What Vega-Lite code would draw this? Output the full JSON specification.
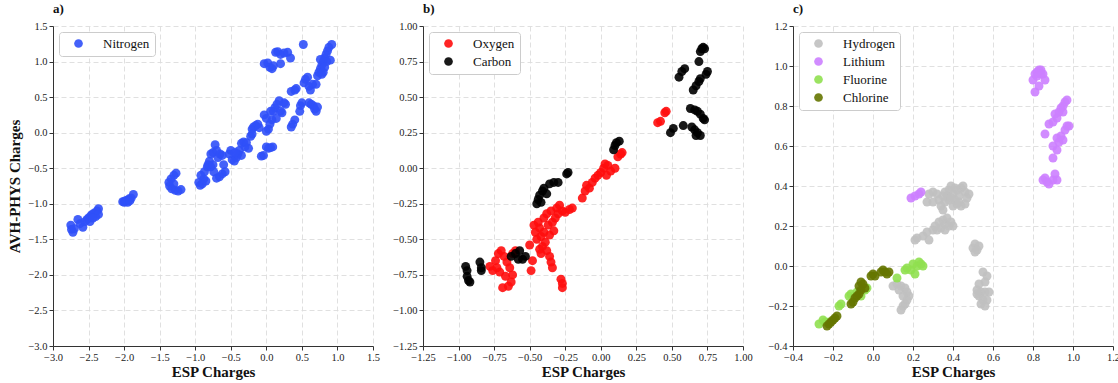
{
  "$schema": "https://vega.github.io/schema/vega-lite/v6.json",
  "padding": {"left": 7, "top": 3, "right": 0, "bottom": 0},
  "bounds": "flush",
  "spacing": 50,
  "config": {
    "font": "Liberation Serif",
    "view": {"stroke": null},
    "style": {"guide-label": {"font": "Liberation Serif"}, "guide-title": {"font": "Liberation Serif"}, "group-title": {"font": "Liberation Serif"}},
    "axis": {
      "labelFont": "Liberation Serif", "labelFontSize": 10.5, "labelColor": "#222222", "labelOverlap": false, "labelFlush": false,
      "titleFont": "Liberation Serif", "titleFontSize": 15, "titleFontWeight": "bold", "titleColor": "#111111",
      "gridColor": "#dddddd", "gridDash": [5, 3], "gridWidth": 0.9,
      "domainColor": "#333333", "tickColor": "#333333", "tickSize": 4, "domainWidth": 1, "labelPadding": 2, "titlePadding": 2
    },
    "legend": {
      "orient": "top-left", "offset": 6, "title": null, "padding": 5, "symbolOffset": 8, "labelOffset": 18,
      "labelFont": "Liberation Serif", "labelFontSize": 13, "labelColor": "#111111", "symbolType": "circle", "symbolSize": 75,
      "symbolOpacity": 0.9, "strokeColor": "#cccccc", "fillColor": "#ffffff", "cornerRadius": 3, "rowPadding": 4
    },
    "title": {"font": "Liberation Serif", "fontSize": 13, "fontWeight": "bold", "anchor": "start", "frame": "group", "offset": 5, "color": "#111111"}
  },
  "resolve": {"scale": {"color": "independent"}, "legend": {"color": "independent"}},
  "hconcat": [
    {
      "width": 320, "height": 320,
      "title": {"text": "a)"},
      "data": {"values": [
        {"esp": -2.75, "avh": -1.30, "el": "Nitrogen"}, {"esp": -2.74, "avh": -1.36, "el": "Nitrogen"}, {"esp": -2.72, "avh": -1.40, "el": "Nitrogen"},
        {"esp": -2.70, "avh": -1.35, "el": "Nitrogen"}, {"esp": -2.65, "avh": -1.22, "el": "Nitrogen"}, {"esp": -2.62, "avh": -1.28, "el": "Nitrogen"},
        {"esp": -2.58, "avh": -1.33, "el": "Nitrogen"}, {"esp": -2.55, "avh": -1.25, "el": "Nitrogen"}, {"esp": -2.52, "avh": -1.22, "el": "Nitrogen"},
        {"esp": -2.50, "avh": -1.20, "el": "Nitrogen"}, {"esp": -2.47, "avh": -1.17, "el": "Nitrogen"}, {"esp": -2.45, "avh": -1.15, "el": "Nitrogen"},
        {"esp": -2.42, "avh": -1.13, "el": "Nitrogen"}, {"esp": -2.40, "avh": -1.18, "el": "Nitrogen"}, {"esp": -2.38, "avh": -1.10, "el": "Nitrogen"},
        {"esp": -2.36, "avh": -1.07, "el": "Nitrogen"}, {"esp": -2.36, "avh": -1.15, "el": "Nitrogen"}, {"esp": -2.48, "avh": -1.25, "el": "Nitrogen"},
        {"esp": -2.44, "avh": -1.20, "el": "Nitrogen"},
        {"esp": -2.02, "avh": -0.97, "el": "Nitrogen"}, {"esp": -1.99, "avh": -0.96, "el": "Nitrogen"}, {"esp": -1.96, "avh": -0.95, "el": "Nitrogen"},
        {"esp": -1.93, "avh": -0.93, "el": "Nitrogen"}, {"esp": -1.90, "avh": -0.92, "el": "Nitrogen"}, {"esp": -1.87, "avh": -0.87, "el": "Nitrogen"},
        {"esp": -1.95, "avh": -0.98, "el": "Nitrogen"}, {"esp": -2.00, "avh": -0.98, "el": "Nitrogen"}, {"esp": -1.92, "avh": -0.96, "el": "Nitrogen"},
        {"esp": -1.27, "avh": -0.57, "el": "Nitrogen"}, {"esp": -1.30, "avh": -0.60, "el": "Nitrogen"}, {"esp": -1.34, "avh": -0.65, "el": "Nitrogen"},
        {"esp": -1.37, "avh": -0.70, "el": "Nitrogen"}, {"esp": -1.36, "avh": -0.75, "el": "Nitrogen"}, {"esp": -1.33, "avh": -0.79, "el": "Nitrogen"},
        {"esp": -1.28, "avh": -0.81, "el": "Nitrogen"}, {"esp": -1.24, "avh": -0.82, "el": "Nitrogen"}, {"esp": -1.20, "avh": -0.80, "el": "Nitrogen"},
        {"esp": -1.30, "avh": -0.72, "el": "Nitrogen"},
        {"esp": -0.95, "avh": -0.70, "el": "Nitrogen"}, {"esp": -0.93, "avh": -0.74, "el": "Nitrogen"}, {"esp": -0.90, "avh": -0.72, "el": "Nitrogen"},
        {"esp": -0.88, "avh": -0.65, "el": "Nitrogen"}, {"esp": -0.92, "avh": -0.60, "el": "Nitrogen"}, {"esp": -0.85, "avh": -0.68, "el": "Nitrogen"},
        {"esp": -0.87, "avh": -0.55, "el": "Nitrogen"}, {"esp": -0.83, "avh": -0.48, "el": "Nitrogen"},
        {"esp": -0.80, "avh": -0.40, "el": "Nitrogen"}, {"esp": -0.78, "avh": -0.30, "el": "Nitrogen"}, {"esp": -0.75, "avh": -0.28, "el": "Nitrogen"},
        {"esp": -0.72, "avh": -0.17, "el": "Nitrogen"}, {"esp": -0.70, "avh": -0.25, "el": "Nitrogen"}, {"esp": -0.68, "avh": -0.35, "el": "Nitrogen"},
        {"esp": -0.65, "avh": -0.30, "el": "Nitrogen"}, {"esp": -0.62, "avh": -0.32, "el": "Nitrogen"}, {"esp": -0.60, "avh": -0.45, "el": "Nitrogen"},
        {"esp": -0.58, "avh": -0.55, "el": "Nitrogen"}, {"esp": -0.62, "avh": -0.58, "el": "Nitrogen"}, {"esp": -0.66, "avh": -0.62, "el": "Nitrogen"},
        {"esp": -0.70, "avh": -0.64, "el": "Nitrogen"}, {"esp": -0.74, "avh": -0.55, "el": "Nitrogen"}, {"esp": -0.78, "avh": -0.48, "el": "Nitrogen"},
        {"esp": -0.82, "avh": -0.45, "el": "Nitrogen"}, {"esp": -0.75, "avh": -0.45, "el": "Nitrogen"},
        {"esp": -0.52, "avh": -0.30, "el": "Nitrogen"}, {"esp": -0.50, "avh": -0.25, "el": "Nitrogen"}, {"esp": -0.48, "avh": -0.38, "el": "Nitrogen"},
        {"esp": -0.45, "avh": -0.40, "el": "Nitrogen"}, {"esp": -0.42, "avh": -0.35, "el": "Nitrogen"}, {"esp": -0.40, "avh": -0.30, "el": "Nitrogen"},
        {"esp": -0.38, "avh": -0.25, "el": "Nitrogen"}, {"esp": -0.35, "avh": -0.15, "el": "Nitrogen"}, {"esp": -0.32, "avh": -0.13, "el": "Nitrogen"},
        {"esp": -0.30, "avh": -0.20, "el": "Nitrogen"}, {"esp": -0.28, "avh": -0.14, "el": "Nitrogen"}, {"esp": -0.25, "avh": -0.22, "el": "Nitrogen"},
        {"esp": -0.35, "avh": -0.32, "el": "Nitrogen"}, {"esp": -0.44, "avh": -0.28, "el": "Nitrogen"},
        {"esp": -0.22, "avh": -0.05, "el": "Nitrogen"}, {"esp": -0.20, "avh": 0.05, "el": "Nitrogen"}, {"esp": -0.18, "avh": 0.08, "el": "Nitrogen"},
        {"esp": -0.15, "avh": 0.10, "el": "Nitrogen"}, {"esp": -0.12, "avh": 0.12, "el": "Nitrogen"}, {"esp": -0.10, "avh": 0.07, "el": "Nitrogen"},
        {"esp": -0.20, "avh": -0.02, "el": "Nitrogen"},
        {"esp": -0.07, "avh": -0.33, "el": "Nitrogen"}, {"esp": -0.04, "avh": -0.32, "el": "Nitrogen"}, {"esp": 0.00, "avh": -0.20, "el": "Nitrogen"},
        {"esp": 0.03, "avh": -0.22, "el": "Nitrogen"}, {"esp": 0.06, "avh": -0.21, "el": "Nitrogen"}, {"esp": 0.09, "avh": -0.20, "el": "Nitrogen"},
        {"esp": -0.03, "avh": 0.25, "el": "Nitrogen"}, {"esp": 0.00, "avh": 0.20, "el": "Nitrogen"}, {"esp": 0.00, "avh": 0.02, "el": "Nitrogen"},
        {"esp": 0.03, "avh": 0.05, "el": "Nitrogen"}, {"esp": 0.05, "avh": 0.12, "el": "Nitrogen"}, {"esp": 0.08, "avh": 0.18, "el": "Nitrogen"},
        {"esp": 0.10, "avh": 0.30, "el": "Nitrogen"}, {"esp": 0.12, "avh": 0.35, "el": "Nitrogen"}, {"esp": 0.15, "avh": 0.40, "el": "Nitrogen"},
        {"esp": 0.18, "avh": 0.45, "el": "Nitrogen"}, {"esp": 0.20, "avh": 0.30, "el": "Nitrogen"}, {"esp": 0.22, "avh": 0.28, "el": "Nitrogen"},
        {"esp": 0.25, "avh": 0.42, "el": "Nitrogen"}, {"esp": 0.27, "avh": 0.40, "el": "Nitrogen"}, {"esp": 0.14, "avh": 0.20, "el": "Nitrogen"},
        {"esp": 0.06, "avh": 0.30, "el": "Nitrogen"},
        {"esp": 0.35, "avh": 0.08, "el": "Nitrogen"}, {"esp": 0.37, "avh": 0.12, "el": "Nitrogen"}, {"esp": 0.40, "avh": 0.18, "el": "Nitrogen"},
        {"esp": 0.35, "avh": 0.58, "el": "Nitrogen"}, {"esp": 0.40, "avh": 0.60, "el": "Nitrogen"}, {"esp": 0.42, "avh": 0.62, "el": "Nitrogen"},
        {"esp": -0.03, "avh": 0.97, "el": "Nitrogen"}, {"esp": 0.02, "avh": 0.98, "el": "Nitrogen"}, {"esp": 0.05, "avh": 0.92, "el": "Nitrogen"},
        {"esp": 0.08, "avh": 0.90, "el": "Nitrogen"}, {"esp": 0.10, "avh": 0.94, "el": "Nitrogen"}, {"esp": 0.13, "avh": 1.13, "el": "Nitrogen"},
        {"esp": 0.16, "avh": 1.14, "el": "Nitrogen"}, {"esp": 0.20, "avh": 1.10, "el": "Nitrogen"}, {"esp": 0.25, "avh": 1.12, "el": "Nitrogen"},
        {"esp": 0.30, "avh": 1.13, "el": "Nitrogen"}, {"esp": 0.34, "avh": 1.05, "el": "Nitrogen"}, {"esp": 0.20, "avh": 0.97, "el": "Nitrogen"},
        {"esp": 0.52, "avh": 1.24, "el": "Nitrogen"},
        {"esp": 0.47, "avh": 0.30, "el": "Nitrogen"}, {"esp": 0.48, "avh": 0.38, "el": "Nitrogen"}, {"esp": 0.50, "avh": 0.42, "el": "Nitrogen"},
        {"esp": 0.53, "avh": 0.70, "el": "Nitrogen"}, {"esp": 0.55, "avh": 0.75, "el": "Nitrogen"}, {"esp": 0.58, "avh": 0.78, "el": "Nitrogen"},
        {"esp": 0.60, "avh": 0.65, "el": "Nitrogen"}, {"esp": 0.62, "avh": 0.60, "el": "Nitrogen"}, {"esp": 0.65, "avh": 0.68, "el": "Nitrogen"},
        {"esp": 0.60, "avh": 0.42, "el": "Nitrogen"}, {"esp": 0.63, "avh": 0.40, "el": "Nitrogen"}, {"esp": 0.66, "avh": 0.38, "el": "Nitrogen"},
        {"esp": 0.68, "avh": 0.33, "el": "Nitrogen"}, {"esp": 0.70, "avh": 0.30, "el": "Nitrogen"}, {"esp": 0.72, "avh": 0.36, "el": "Nitrogen"},
        {"esp": 0.70, "avh": 0.68, "el": "Nitrogen"}, {"esp": 0.72, "avh": 0.80, "el": "Nitrogen"}, {"esp": 0.74, "avh": 0.85, "el": "Nitrogen"},
        {"esp": 0.76, "avh": 0.90, "el": "Nitrogen"}, {"esp": 0.78, "avh": 0.95, "el": "Nitrogen"}, {"esp": 0.80, "avh": 1.00, "el": "Nitrogen"},
        {"esp": 0.82, "avh": 1.05, "el": "Nitrogen"}, {"esp": 0.84, "avh": 1.10, "el": "Nitrogen"}, {"esp": 0.86, "avh": 1.15, "el": "Nitrogen"},
        {"esp": 0.88, "avh": 1.20, "el": "Nitrogen"}, {"esp": 0.92, "avh": 1.24, "el": "Nitrogen"}, {"esp": 0.90, "avh": 1.02, "el": "Nitrogen"},
        {"esp": 0.85, "avh": 1.00, "el": "Nitrogen"}, {"esp": 0.78, "avh": 0.82, "el": "Nitrogen"}, {"esp": 0.80, "avh": 0.85, "el": "Nitrogen"},
        {"esp": 0.76, "avh": 1.03, "el": "Nitrogen"}, {"esp": 0.82, "avh": 0.92, "el": "Nitrogen"}
      ]},
      "mark": {"type": "circle", "size": 80, "opacity": 0.9},
      "encoding": {
        "x": {"field": "esp", "type": "quantitative", "scale": {"domain": [-3, 1.5], "nice": false, "zero": false},
              "axis": {"title": "ESP Charges", "labelFont": "Liberation Serif", "values": [-3, -2.5, -2, -1.5, -1, -0.5, 0, 0.5, 1, 1.5], "format": ".1f"}},
        "y": {"field": "avh", "type": "quantitative", "scale": {"domain": [-3, 1.5], "nice": false, "zero": false},
              "axis": {"title": "AVH-PHYS Charges", "labelFont": "Liberation Serif", "titlePadding": 5, "values": [-3, -2.5, -2, -1.5, -1, -0.5, 0, 0.5, 1, 1.5], "format": ".1f"}},
        "color": {"field": "el", "type": "nominal", "scale": {"domain": ["Nitrogen"], "range": ["#3050F8"]}, "legend": {"title": null}}
      }
    },
    {
      "width": 320, "height": 320,
      "title": {"text": "b)"},
      "data": {"values": [
        {"esp": -0.78, "avh": -0.69, "el": "Oxygen"}, {"esp": -0.76, "avh": -0.72, "el": "Oxygen"}, {"esp": -0.74, "avh": -0.65, "el": "Oxygen"},
        {"esp": -0.72, "avh": -0.60, "el": "Oxygen"}, {"esp": -0.70, "avh": -0.58, "el": "Oxygen"}, {"esp": -0.68, "avh": -0.62, "el": "Oxygen"},
        {"esp": -0.66, "avh": -0.66, "el": "Oxygen"}, {"esp": -0.64, "avh": -0.70, "el": "Oxygen"}, {"esp": -0.62, "avh": -0.75, "el": "Oxygen"},
        {"esp": -0.63, "avh": -0.80, "el": "Oxygen"}, {"esp": -0.65, "avh": -0.83, "el": "Oxygen"}, {"esp": -0.69, "avh": -0.84, "el": "Oxygen"},
        {"esp": -0.71, "avh": -0.73, "el": "Oxygen"}, {"esp": -0.67, "avh": -0.76, "el": "Oxygen"}, {"esp": -0.60, "avh": -0.58, "el": "Oxygen"},
        {"esp": -0.62, "avh": -0.60, "el": "Oxygen"}, {"esp": -0.73, "avh": -0.70, "el": "Oxygen"},
        {"esp": -0.50, "avh": -0.54, "el": "Oxygen"}, {"esp": -0.49, "avh": -0.72, "el": "Oxygen"}, {"esp": -0.48, "avh": -0.65, "el": "Oxygen"},
        {"esp": -0.47, "avh": -0.40, "el": "Oxygen"}, {"esp": -0.46, "avh": -0.45, "el": "Oxygen"}, {"esp": -0.45, "avh": -0.50, "el": "Oxygen"},
        {"esp": -0.44, "avh": -0.38, "el": "Oxygen"}, {"esp": -0.43, "avh": -0.42, "el": "Oxygen"}, {"esp": -0.42, "avh": -0.48, "el": "Oxygen"},
        {"esp": -0.41, "avh": -0.55, "el": "Oxygen"}, {"esp": -0.40, "avh": -0.35, "el": "Oxygen"}, {"esp": -0.40, "avh": -0.45, "el": "Oxygen"},
        {"esp": -0.39, "avh": -0.52, "el": "Oxygen"}, {"esp": -0.38, "avh": -0.32, "el": "Oxygen"}, {"esp": -0.37, "avh": -0.40, "el": "Oxygen"},
        {"esp": -0.36, "avh": -0.47, "el": "Oxygen"}, {"esp": -0.35, "avh": -0.30, "el": "Oxygen"}, {"esp": -0.34, "avh": -0.38, "el": "Oxygen"},
        {"esp": -0.33, "avh": -0.44, "el": "Oxygen"}, {"esp": -0.32, "avh": -0.35, "el": "Oxygen"}, {"esp": -0.31, "avh": -0.28, "el": "Oxygen"},
        {"esp": -0.30, "avh": -0.32, "el": "Oxygen"}, {"esp": -0.29, "avh": -0.26, "el": "Oxygen"}, {"esp": -0.43, "avh": -0.57, "el": "Oxygen"},
        {"esp": -0.42, "avh": -0.60, "el": "Oxygen"}, {"esp": -0.38, "avh": -0.58, "el": "Oxygen"}, {"esp": -0.36, "avh": -0.62, "el": "Oxygen"},
        {"esp": -0.35, "avh": -0.66, "el": "Oxygen"}, {"esp": -0.34, "avh": -0.70, "el": "Oxygen"}, {"esp": -0.28, "avh": -0.78, "el": "Oxygen"},
        {"esp": -0.27, "avh": -0.81, "el": "Oxygen"}, {"esp": -0.27, "avh": -0.84, "el": "Oxygen"},
        {"esp": -0.27, "avh": -0.30, "el": "Oxygen"}, {"esp": -0.25, "avh": -0.31, "el": "Oxygen"}, {"esp": -0.22, "avh": -0.29, "el": "Oxygen"},
        {"esp": -0.20, "avh": -0.28, "el": "Oxygen"},
        {"esp": -0.13, "avh": -0.21, "el": "Oxygen"}, {"esp": -0.11, "avh": -0.16, "el": "Oxygen"}, {"esp": -0.10, "avh": -0.12, "el": "Oxygen"},
        {"esp": -0.08, "avh": -0.14, "el": "Oxygen"}, {"esp": -0.06, "avh": -0.10, "el": "Oxygen"}, {"esp": -0.04, "avh": -0.07, "el": "Oxygen"},
        {"esp": -0.02, "avh": -0.05, "el": "Oxygen"},
        {"esp": 0.00, "avh": -0.03, "el": "Oxygen"}, {"esp": 0.02, "avh": 0.00, "el": "Oxygen"}, {"esp": 0.03, "avh": 0.03, "el": "Oxygen"},
        {"esp": 0.05, "avh": 0.02, "el": "Oxygen"}, {"esp": 0.07, "avh": -0.02, "el": "Oxygen"}, {"esp": 0.10, "avh": 0.00, "el": "Oxygen"},
        {"esp": 0.12, "avh": 0.08, "el": "Oxygen"}, {"esp": 0.14, "avh": 0.10, "el": "Oxygen"}, {"esp": 0.15, "avh": 0.11, "el": "Oxygen"},
        {"esp": 0.04, "avh": -0.05, "el": "Oxygen"},
        {"esp": 0.40, "avh": 0.32, "el": "Oxygen"}, {"esp": 0.42, "avh": 0.33, "el": "Oxygen"}, {"esp": 0.45, "avh": 0.39, "el": "Oxygen"},
        {"esp": 0.46, "avh": 0.40, "el": "Oxygen"},
        {"esp": -0.95, "avh": -0.69, "el": "Carbon"}, {"esp": -0.94, "avh": -0.72, "el": "Carbon"}, {"esp": -0.94, "avh": -0.76, "el": "Carbon"},
        {"esp": -0.93, "avh": -0.79, "el": "Carbon"}, {"esp": -0.92, "avh": -0.80, "el": "Carbon"}, {"esp": -0.85, "avh": -0.66, "el": "Carbon"},
        {"esp": -0.84, "avh": -0.70, "el": "Carbon"}, {"esp": -0.84, "avh": -0.72, "el": "Carbon"},
        {"esp": -0.63, "avh": -0.62, "el": "Carbon"}, {"esp": -0.60, "avh": -0.60, "el": "Carbon"}, {"esp": -0.57, "avh": -0.58, "el": "Carbon"},
        {"esp": -0.55, "avh": -0.64, "el": "Carbon"}, {"esp": -0.53, "avh": -0.62, "el": "Carbon"}, {"esp": -0.58, "avh": -0.64, "el": "Carbon"},
        {"esp": -0.45, "avh": -0.25, "el": "Carbon"}, {"esp": -0.44, "avh": -0.22, "el": "Carbon"}, {"esp": -0.43, "avh": -0.19, "el": "Carbon"},
        {"esp": -0.41, "avh": -0.16, "el": "Carbon"}, {"esp": -0.40, "avh": -0.14, "el": "Carbon"}, {"esp": -0.38, "avh": -0.18, "el": "Carbon"},
        {"esp": -0.36, "avh": -0.11, "el": "Carbon"}, {"esp": -0.33, "avh": -0.10, "el": "Carbon"}, {"esp": -0.30, "avh": -0.10, "el": "Carbon"},
        {"esp": -0.24, "avh": -0.04, "el": "Carbon"}, {"esp": -0.23, "avh": -0.03, "el": "Carbon"}, {"esp": -0.42, "avh": -0.24, "el": "Carbon"},
        {"esp": 0.09, "avh": 0.13, "el": "Carbon"}, {"esp": 0.10, "avh": 0.16, "el": "Carbon"}, {"esp": 0.11, "avh": 0.18, "el": "Carbon"},
        {"esp": 0.13, "avh": 0.19, "el": "Carbon"},
        {"esp": 0.49, "avh": 0.25, "el": "Carbon"}, {"esp": 0.51, "avh": 0.28, "el": "Carbon"}, {"esp": 0.55, "avh": 0.64, "el": "Carbon"},
        {"esp": 0.57, "avh": 0.68, "el": "Carbon"}, {"esp": 0.59, "avh": 0.70, "el": "Carbon"}, {"esp": 0.58, "avh": 0.30, "el": "Carbon"},
        {"esp": 0.63, "avh": 0.42, "el": "Carbon"}, {"esp": 0.64, "avh": 0.29, "el": "Carbon"}, {"esp": 0.66, "avh": 0.27, "el": "Carbon"},
        {"esp": 0.67, "avh": 0.23, "el": "Carbon"}, {"esp": 0.68, "avh": 0.25, "el": "Carbon"}, {"esp": 0.70, "avh": 0.23, "el": "Carbon"},
        {"esp": 0.66, "avh": 0.41, "el": "Carbon"}, {"esp": 0.68, "avh": 0.40, "el": "Carbon"}, {"esp": 0.70, "avh": 0.38, "el": "Carbon"},
        {"esp": 0.72, "avh": 0.35, "el": "Carbon"}, {"esp": 0.73, "avh": 0.34, "el": "Carbon"}, {"esp": 0.65, "avh": 0.55, "el": "Carbon"},
        {"esp": 0.67, "avh": 0.58, "el": "Carbon"}, {"esp": 0.69, "avh": 0.61, "el": "Carbon"}, {"esp": 0.70, "avh": 0.63, "el": "Carbon"},
        {"esp": 0.69, "avh": 0.75, "el": "Carbon"}, {"esp": 0.70, "avh": 0.82, "el": "Carbon"}, {"esp": 0.71, "avh": 0.84, "el": "Carbon"},
        {"esp": 0.72, "avh": 0.85, "el": "Carbon"}, {"esp": 0.73, "avh": 0.84, "el": "Carbon"}, {"esp": 0.75, "avh": 0.68, "el": "Carbon"},
        {"esp": 0.74, "avh": 0.66, "el": "Carbon"}
      ]},
      "mark": {"type": "circle", "size": 80, "opacity": 0.9},
      "encoding": {
        "x": {"field": "esp", "type": "quantitative", "scale": {"domain": [-1.25, 1.0], "nice": false, "zero": false},
              "axis": {"title": "ESP Charges", "labelFont": "Liberation Serif", "values": [-1.25, -1, -0.75, -0.5, -0.25, 0, 0.25, 0.5, 0.75, 1], "format": ".2f"}},
        "y": {"field": "avh", "type": "quantitative", "scale": {"domain": [-1.25, 1.0], "nice": false, "zero": false},
              "axis": {"title": null, "labelFont": "Liberation Serif", "values": [-1.25, -1, -0.75, -0.5, -0.25, 0, 0.25, 0.5, 0.75, 1], "format": ".2f"}},
        "color": {"field": "el", "type": "nominal", "scale": {"domain": ["Oxygen", "Carbon"], "range": ["#FF0D0D", "#000000"]}, "legend": {"title": null}}
      }
    },
    {
      "width": 320, "height": 320,
      "title": {"text": "c)"},
      "data": {"values": [
        {"esp": 0.27, "avh": 0.32, "el": "Hydrogen"}, {"esp": 0.28, "avh": 0.36, "el": "Hydrogen"}, {"esp": 0.30, "avh": 0.37, "el": "Hydrogen"},
        {"esp": 0.32, "avh": 0.36, "el": "Hydrogen"}, {"esp": 0.33, "avh": 0.33, "el": "Hydrogen"}, {"esp": 0.34, "avh": 0.30, "el": "Hydrogen"},
        {"esp": 0.35, "avh": 0.28, "el": "Hydrogen"}, {"esp": 0.36, "avh": 0.32, "el": "Hydrogen"}, {"esp": 0.37, "avh": 0.35, "el": "Hydrogen"},
        {"esp": 0.38, "avh": 0.38, "el": "Hydrogen"}, {"esp": 0.39, "avh": 0.40, "el": "Hydrogen"}, {"esp": 0.40, "avh": 0.36, "el": "Hydrogen"},
        {"esp": 0.41, "avh": 0.33, "el": "Hydrogen"}, {"esp": 0.42, "avh": 0.31, "el": "Hydrogen"}, {"esp": 0.43, "avh": 0.35, "el": "Hydrogen"},
        {"esp": 0.44, "avh": 0.39, "el": "Hydrogen"}, {"esp": 0.45, "avh": 0.40, "el": "Hydrogen"}, {"esp": 0.46, "avh": 0.37, "el": "Hydrogen"},
        {"esp": 0.47, "avh": 0.34, "el": "Hydrogen"}, {"esp": 0.46, "avh": 0.31, "el": "Hydrogen"}, {"esp": 0.44, "avh": 0.30, "el": "Hydrogen"},
        {"esp": 0.40, "avh": 0.30, "el": "Hydrogen"}, {"esp": 0.38, "avh": 0.33, "el": "Hydrogen"}, {"esp": 0.36, "avh": 0.37, "el": "Hydrogen"},
        {"esp": 0.42, "avh": 0.38, "el": "Hydrogen"}, {"esp": 0.35, "avh": 0.35, "el": "Hydrogen"}, {"esp": 0.43, "avh": 0.32, "el": "Hydrogen"},
        {"esp": 0.39, "avh": 0.34, "el": "Hydrogen"}, {"esp": 0.41, "avh": 0.39, "el": "Hydrogen"}, {"esp": 0.30, "avh": 0.32, "el": "Hydrogen"},
        {"esp": 0.48, "avh": 0.36, "el": "Hydrogen"},
        {"esp": 0.21, "avh": 0.13, "el": "Hydrogen"}, {"esp": 0.22, "avh": 0.14, "el": "Hydrogen"}, {"esp": 0.25, "avh": 0.15, "el": "Hydrogen"},
        {"esp": 0.27, "avh": 0.17, "el": "Hydrogen"}, {"esp": 0.28, "avh": 0.13, "el": "Hydrogen"}, {"esp": 0.30, "avh": 0.18, "el": "Hydrogen"},
        {"esp": 0.31, "avh": 0.20, "el": "Hydrogen"}, {"esp": 0.33, "avh": 0.22, "el": "Hydrogen"}, {"esp": 0.34, "avh": 0.19, "el": "Hydrogen"},
        {"esp": 0.35, "avh": 0.23, "el": "Hydrogen"}, {"esp": 0.36, "avh": 0.21, "el": "Hydrogen"}, {"esp": 0.37, "avh": 0.24, "el": "Hydrogen"},
        {"esp": 0.38, "avh": 0.20, "el": "Hydrogen"}, {"esp": 0.39, "avh": 0.22, "el": "Hydrogen"}, {"esp": 0.40, "avh": 0.20, "el": "Hydrogen"},
        {"esp": 0.32, "avh": 0.18, "el": "Hydrogen"}, {"esp": 0.36, "avh": 0.18, "el": "Hydrogen"},
        {"esp": 0.10, "avh": -0.10, "el": "Hydrogen"}, {"esp": 0.12, "avh": -0.09, "el": "Hydrogen"}, {"esp": 0.14, "avh": -0.10, "el": "Hydrogen"},
        {"esp": 0.16, "avh": -0.11, "el": "Hydrogen"}, {"esp": 0.17, "avh": -0.13, "el": "Hydrogen"}, {"esp": 0.18, "avh": -0.15, "el": "Hydrogen"},
        {"esp": 0.17, "avh": -0.17, "el": "Hydrogen"}, {"esp": 0.16, "avh": -0.19, "el": "Hydrogen"}, {"esp": 0.15, "avh": -0.20, "el": "Hydrogen"},
        {"esp": 0.14, "avh": -0.22, "el": "Hydrogen"}, {"esp": 0.15, "avh": -0.15, "el": "Hydrogen"}, {"esp": 0.13, "avh": -0.12, "el": "Hydrogen"},
        {"esp": 0.50, "avh": 0.09, "el": "Hydrogen"}, {"esp": 0.51, "avh": 0.11, "el": "Hydrogen"}, {"esp": 0.52, "avh": 0.08, "el": "Hydrogen"},
        {"esp": 0.53, "avh": 0.10, "el": "Hydrogen"}, {"esp": 0.51, "avh": 0.07, "el": "Hydrogen"},
        {"esp": 0.55, "avh": -0.03, "el": "Hydrogen"}, {"esp": 0.57, "avh": -0.05, "el": "Hydrogen"}, {"esp": 0.56, "avh": -0.08, "el": "Hydrogen"},
        {"esp": 0.53, "avh": -0.09, "el": "Hydrogen"}, {"esp": 0.52, "avh": -0.12, "el": "Hydrogen"}, {"esp": 0.54, "avh": -0.13, "el": "Hydrogen"},
        {"esp": 0.56, "avh": -0.13, "el": "Hydrogen"}, {"esp": 0.58, "avh": -0.13, "el": "Hydrogen"}, {"esp": 0.53, "avh": -0.15, "el": "Hydrogen"},
        {"esp": 0.55, "avh": -0.17, "el": "Hydrogen"}, {"esp": 0.57, "avh": -0.17, "el": "Hydrogen"}, {"esp": 0.54, "avh": -0.19, "el": "Hydrogen"},
        {"esp": 0.56, "avh": -0.20, "el": "Hydrogen"}, {"esp": 0.52, "avh": -0.14, "el": "Hydrogen"},
        {"esp": 0.19, "avh": 0.34, "el": "Lithium"}, {"esp": 0.21, "avh": 0.35, "el": "Lithium"}, {"esp": 0.23, "avh": 0.36, "el": "Lithium"},
        {"esp": 0.24, "avh": 0.37, "el": "Lithium"},
        {"esp": 0.80, "avh": 0.93, "el": "Lithium"}, {"esp": 0.81, "avh": 0.96, "el": "Lithium"}, {"esp": 0.82, "avh": 0.97, "el": "Lithium"},
        {"esp": 0.83, "avh": 0.98, "el": "Lithium"}, {"esp": 0.84, "avh": 0.98, "el": "Lithium"}, {"esp": 0.85, "avh": 0.96, "el": "Lithium"},
        {"esp": 0.86, "avh": 0.93, "el": "Lithium"}, {"esp": 0.81, "avh": 0.87, "el": "Lithium"}, {"esp": 0.83, "avh": 0.90, "el": "Lithium"},
        {"esp": 0.82, "avh": 0.95, "el": "Lithium"}, {"esp": 0.84, "avh": 0.96, "el": "Lithium"},
        {"esp": 0.88, "avh": 0.71, "el": "Lithium"}, {"esp": 0.90, "avh": 0.72, "el": "Lithium"}, {"esp": 0.91, "avh": 0.76, "el": "Lithium"},
        {"esp": 0.92, "avh": 0.74, "el": "Lithium"}, {"esp": 0.93, "avh": 0.77, "el": "Lithium"}, {"esp": 0.94, "avh": 0.79, "el": "Lithium"},
        {"esp": 0.95, "avh": 0.80, "el": "Lithium"}, {"esp": 0.96, "avh": 0.82, "el": "Lithium"}, {"esp": 0.97, "avh": 0.83, "el": "Lithium"},
        {"esp": 0.95, "avh": 0.77, "el": "Lithium"},
        {"esp": 0.86, "avh": 0.66, "el": "Lithium"}, {"esp": 0.90, "avh": 0.60, "el": "Lithium"}, {"esp": 0.92, "avh": 0.64, "el": "Lithium"},
        {"esp": 0.93, "avh": 0.62, "el": "Lithium"}, {"esp": 0.94, "avh": 0.65, "el": "Lithium"}, {"esp": 0.95, "avh": 0.63, "el": "Lithium"},
        {"esp": 0.96, "avh": 0.68, "el": "Lithium"}, {"esp": 0.97, "avh": 0.70, "el": "Lithium"}, {"esp": 0.98, "avh": 0.70, "el": "Lithium"},
        {"esp": 0.92, "avh": 0.58, "el": "Lithium"}, {"esp": 0.90, "avh": 0.54, "el": "Lithium"},
        {"esp": 0.85, "avh": 0.43, "el": "Lithium"}, {"esp": 0.86, "avh": 0.44, "el": "Lithium"}, {"esp": 0.88, "avh": 0.41, "el": "Lithium"},
        {"esp": 0.90, "avh": 0.43, "el": "Lithium"}, {"esp": 0.91, "avh": 0.46, "el": "Lithium"}, {"esp": 0.92, "avh": 0.43, "el": "Lithium"},
        {"esp": 0.87, "avh": 0.42, "el": "Lithium"},
        {"esp": -0.27, "avh": -0.29, "el": "Fluorine"}, {"esp": -0.25, "avh": -0.27, "el": "Fluorine"}, {"esp": -0.24, "avh": -0.28, "el": "Fluorine"},
        {"esp": -0.22, "avh": -0.28, "el": "Fluorine"}, {"esp": -0.17, "avh": -0.20, "el": "Fluorine"}, {"esp": -0.16, "avh": -0.19, "el": "Fluorine"},
        {"esp": -0.12, "avh": -0.15, "el": "Fluorine"}, {"esp": -0.11, "avh": -0.14, "el": "Fluorine"}, {"esp": -0.08, "avh": -0.13, "el": "Fluorine"},
        {"esp": -0.06, "avh": -0.15, "el": "Fluorine"}, {"esp": -0.04, "avh": -0.12, "el": "Fluorine"}, {"esp": -0.03, "avh": -0.11, "el": "Fluorine"},
        {"esp": 0.12, "avh": -0.06, "el": "Fluorine"}, {"esp": 0.16, "avh": -0.02, "el": "Fluorine"}, {"esp": 0.17, "avh": -0.01, "el": "Fluorine"},
        {"esp": 0.19, "avh": -0.02, "el": "Fluorine"}, {"esp": 0.21, "avh": -0.04, "el": "Fluorine"}, {"esp": 0.22, "avh": 0.00, "el": "Fluorine"},
        {"esp": 0.23, "avh": 0.02, "el": "Fluorine"}, {"esp": 0.24, "avh": 0.01, "el": "Fluorine"}, {"esp": 0.25, "avh": 0.00, "el": "Fluorine"},
        {"esp": 0.20, "avh": 0.01, "el": "Fluorine"},
        {"esp": -0.23, "avh": -0.30, "el": "Chlorine"}, {"esp": -0.22, "avh": -0.29, "el": "Chlorine"}, {"esp": -0.21, "avh": -0.28, "el": "Chlorine"},
        {"esp": -0.20, "avh": -0.27, "el": "Chlorine"}, {"esp": -0.19, "avh": -0.26, "el": "Chlorine"}, {"esp": -0.18, "avh": -0.25, "el": "Chlorine"},
        {"esp": -0.11, "avh": -0.19, "el": "Chlorine"}, {"esp": -0.10, "avh": -0.18, "el": "Chlorine"}, {"esp": -0.09, "avh": -0.16, "el": "Chlorine"},
        {"esp": -0.08, "avh": -0.15, "el": "Chlorine"}, {"esp": -0.07, "avh": -0.14, "el": "Chlorine"}, {"esp": -0.06, "avh": -0.12, "el": "Chlorine"},
        {"esp": -0.07, "avh": -0.10, "el": "Chlorine"}, {"esp": -0.06, "avh": -0.08, "el": "Chlorine"}, {"esp": -0.05, "avh": -0.09, "el": "Chlorine"},
        {"esp": -0.04, "avh": -0.11, "el": "Chlorine"}, {"esp": -0.01, "avh": -0.05, "el": "Chlorine"}, {"esp": 0.00, "avh": -0.04, "el": "Chlorine"},
        {"esp": 0.01, "avh": -0.05, "el": "Chlorine"}, {"esp": 0.04, "avh": -0.03, "el": "Chlorine"}, {"esp": 0.05, "avh": -0.02, "el": "Chlorine"},
        {"esp": 0.06, "avh": -0.03, "el": "Chlorine"}, {"esp": 0.07, "avh": -0.04, "el": "Chlorine"}, {"esp": 0.08, "avh": -0.03, "el": "Chlorine"}
      ]},
      "mark": {"type": "circle", "size": 80, "opacity": 0.9},
      "encoding": {
        "x": {"field": "esp", "type": "quantitative", "scale": {"domain": [-0.4, 1.2], "nice": false, "zero": false},
              "axis": {"title": "ESP Charges", "labelFont": "Liberation Serif", "values": [-0.4, -0.2, 0, 0.2, 0.4, 0.6, 0.8, 1.0, 1.2], "format": ".1f"}},
        "y": {"field": "avh", "type": "quantitative", "scale": {"domain": [-0.4, 1.2], "nice": false, "zero": false},
              "axis": {"title": null, "labelFont": "Liberation Serif", "values": [-0.4, -0.2, 0, 0.2, 0.4, 0.6, 0.8, 1.0, 1.2], "format": ".1f"}},
        "color": {"field": "el", "type": "nominal", "scale": {"domain": ["Hydrogen", "Lithium", "Fluorine", "Chlorine"], "range": ["#c0c0c0", "#CC80FF", "#90E050", "#657500"]}, "legend": {"title": null}}
      }
    }
  ]
}
